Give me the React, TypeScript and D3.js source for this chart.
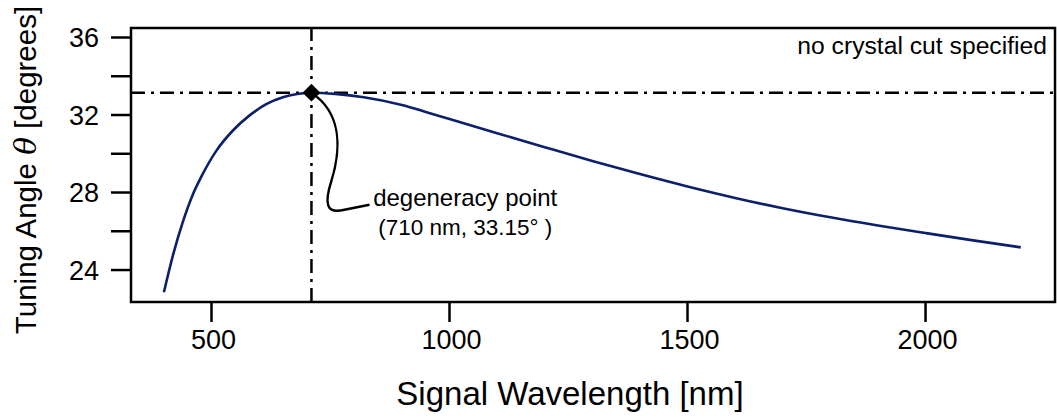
import React from "react";
import * as d3 from "d3";

const wavelengths = [400, 420, 440, 460, 480, 510, 545, 580, 615, 650, 680, 710, 760, 820, 900, 950, 1000, 1100, 1200, 1300, 1400, 1500, 1600, 1700, 1800, 1900, 2000, 2100, 2200];
const angles = [22.85, 24.85, 26.5, 27.85, 28.88, 30.15, 31.2, 31.98, 32.56, 32.92, 33.08, 33.15, 33.09, 32.92, 32.52, 32.16, 31.79, 31.06, 30.34, 29.63, 28.95, 28.31, 27.72, 27.19, 26.72, 26.3, 25.91, 25.53, 25.17];
const xTicks = [500, 1000, 1500, 2000];
const yMajorTicks = [24, 28, 32, 36];
const yMinorTicks = [26, 30, 34];
const degeneracyNm = 710;
const degeneracyDeg = 33.15;
const annotationLines = ["degeneracy point", "(710 nm, 33.15° )"];
const annotationAt = { nm: 825, deg: 27.77 };
const cornerNote = "no crystal cut specified";
const xTitle = "Signal Wavelength [nm]";

const W = 1057;
const H = 420;
const left = 131, right = 1055, top = 28, bottom = 302;
const FONT = "'Liberation Sans', Arial, sans-serif";
const CURVE = "#0c1f6b";
const DASHDOT = "14,6,3,6";

export default function App() {
  const x = d3.scaleLinear().domain([330.9, 2272]).range([left, right]);
  const y = d3.scaleLinear().domain([22.35, 36.49]).range([bottom, top]);
  const pts = wavelengths.map((w, i) => [w, angles[i]] as [number, number]);
  const line = d3.line<[number, number]>().x(d => x(d[0])).y(d => y(d[1])).curve(d3.curveMonotoneX);

  const px = x(degeneracyNm), py = y(degeneracyDeg);
  const tx = x(annotationAt.nm), ty = y(annotationAt.deg);

  const conn = d3.path();
  conn.moveTo(px, py);
  conn.bezierCurveTo(px + 30, py + 20, px + 30, py + 55, px + 20, py + 88);
  conn.bezierCurveTo(px + 13, py + 110, px + 14, py + 122, px + 33, py + 117);
  conn.lineTo(px + 58, py + 112);

  const diamond = d3.symbol().type(d3.symbolDiamond2).size(200)();
  const cx = tx + 99;

  return (
    <svg width={W} height={H} style={{ position: "absolute", left: 0, top: 0, background: "#fff" }} fontFamily={FONT}>
      <rect x={0} y={0} width={W} height={H} fill="#fff" />
      <line x1={left} x2={right} y1={py} y2={py} stroke="#000" strokeWidth={2.5} strokeDasharray={DASHDOT} />
      <line x1={px} x2={px} y1={bottom} y2={top} stroke="#000" strokeWidth={2.5} strokeDasharray={DASHDOT} />
      <path d={line(pts) || ""} fill="none" stroke={CURVE} strokeWidth={2.6} strokeLinejoin="round" />
      <path d={conn.toString()} fill="none" stroke="#000" strokeWidth={2.4} />
      <path d={diamond || ""} transform={`translate(${px},${py})`} fill="#000" />
      <text fontSize={24} textAnchor="middle" fill="#000">
        <tspan x={cx} y={ty + 9}>{annotationLines[0]}</tspan>
        <tspan x={cx} y={ty + 38} fontSize={22.5}>{annotationLines[1]}</tspan>
      </text>
      <text x={right - 8} y={54} fontSize={24.7} textAnchor="end" fill="#000">{cornerNote}</text>
      <rect x={left} y={top} width={right - left} height={bottom - top} fill="none" stroke="#000" strokeWidth={2.5} />
      {xTicks.map(t => (
        <g key={t}>
          <line x1={x(t)} x2={x(t)} y1={bottom} y2={bottom + 20} stroke="#000" strokeWidth={2.5} />
          <text x={x(t) + 2} y={bottom + 47} fontSize={27} textAnchor="middle" fill="#000">{t}</text>
        </g>
      ))}
      <text x={570} y={405} fontSize={33} textAnchor="middle" fill="#000">{xTitle}</text>
      {yMajorTicks.map(t => (
        <g key={t}>
          <line x1={left - 20} x2={left} y1={y(t)} y2={y(t)} stroke="#000" strokeWidth={2.5} />
          <text x={left - 32} y={y(t) + 9.5} fontSize={27} textAnchor="end" fill="#000">{t}</text>
        </g>
      ))}
      {yMinorTicks.map(t => (
        <line key={t} x1={left - 20} x2={left} y1={y(t)} y2={y(t)} stroke="#000" strokeWidth={2.5} />
      ))}
      <text transform={`translate(36,170) rotate(-90)`} fontSize={29.5} textAnchor="middle" fill="#000">
        Tuning Angle <tspan fontStyle="italic" fontFamily="'DejaVu Serif', serif">θ</tspan> [degrees]
      </text>
    </svg>
  );
}
